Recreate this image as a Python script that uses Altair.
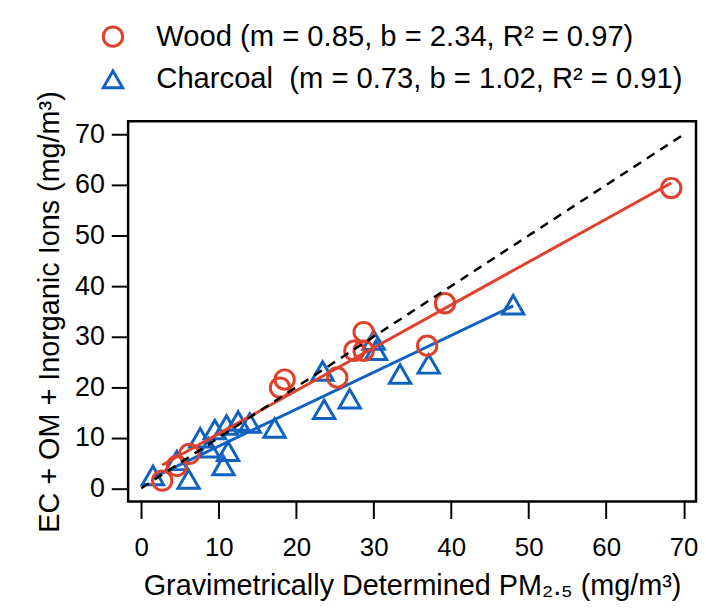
import altair as alt
import pandas as pd

# Wood (red circles)
wood_x = [68.4, 39.2, 36.9, 28.7, 27.5, 28.7, 25.3, 18.5, 17.9, 2.7, 4.6, 6.2]
wood_y = [59.4, 36.6, 28.2, 30.9, 27.2, 27.2, 21.9, 21.5, 19.9, 1.5, 4.4, 6.8]
# Charcoal (blue triangles)
char_x = [1.5, 4.6, 6.1, 7.6, 8.7, 9.5, 11.0, 11.2, 10.6, 12.5, 14.0, 17.2,
          23.4, 23.6, 26.9, 30.0, 30.3, 33.4, 37.1, 48.0]
char_y = [2.5, 5.5, 1.8, 10.0, 8.0, 11.6, 12.5, 7.3, 4.5, 13.3, 12.9, 11.9,
          23.2, 15.6, 17.7, 29.3, 27.3, 22.6, 24.6, 36.3]
# fitted lines (end points)
wood_fit_x = [2.7, 68.4]
wood_fit_y = [4.6, 60.4]
char_fit_x = [1.5, 48.0]
char_fit_y = [2.1, 36.1]
one_x = [0, 70]
one_y = [0, 70]

series = ["Wood", "Charcoal"]
legend_labels = ["Wood (m = 0.85, b = 2.34, R² = 0.97)",
                 "Charcoal\u00a0 (m = 0.73, b = 1.02, R² = 0.91)"]
ticks = [0, 10, 20, 30, 40, 50, 60, 70]

RED = "#e0412c"
BLUE = "#0f62c0"
FONT = "Liberation Sans"

pts = pd.DataFrame({
    "x": wood_x + char_x,
    "y": wood_y + char_y,
    "series": ["Wood"] * len(wood_x) + ["Charcoal"] * len(char_x),
})
wood_fit = pd.DataFrame({"x": wood_fit_x, "y": wood_fit_y})
char_fit = pd.DataFrame({"x": char_fit_x, "y": char_fit_y})
one = pd.DataFrame({"x": one_x, "y": one_y})

xs = alt.Scale(domain=[-1.7, 71.6], nice=False, zero=False)
ys = alt.Scale(domain=[-2.65, 72.6], nice=False, zero=False)

xaxis = alt.Axis(values=ticks, title="Gravimetrically Determined PM₂.₅ (mg/m³)", titlePadding=12,
                 labelFontSize=26)
yaxis = alt.Axis(values=ticks, title="EC + OM + Inorganic Ions (mg/m³)", titlePadding=10)

label_expr = ("datum.label == 'Wood' ? '%s' : '%s'" % (legend_labels[0], legend_labels[1]))

legend = alt.Legend(title=None, orient="none", legendX=-30, legendY=-100,
                    labelExpr=label_expr, labelFontSize=29.4, labelFont=FONT,
                    labelColor="black", labelOffset=29, rowPadding=11, padding=0,
                    labelLimit=0,
                    symbolSize=380, symbolStrokeWidth=3, symbolFillColor="transparent")

color = alt.Color("series:N", scale=alt.Scale(domain=series, range=[RED, BLUE]),
                  legend=legend)
shape = alt.Shape("series:N", scale=alt.Scale(domain=series, range=["circle", "triangle-up"]),
                  legend=legend)

X = alt.X("x:Q", scale=xs, axis=xaxis)
Y = alt.Y("y:Q", scale=ys, axis=yaxis)

char_pts = alt.Chart(pts).transform_filter("datum.series == 'Charcoal'").mark_point(
    filled=False, strokeWidth=3, size=460, opacity=1
).encode(x=X, y=Y, color=color, shape=shape)

wood_pts = alt.Chart(pts).transform_filter("datum.series == 'Wood'").mark_point(
    filled=False, strokeWidth=3, size=380, opacity=1
).encode(x=X, y=Y, color=color, shape=shape)

char_line = alt.Chart(char_fit).mark_line(color=BLUE, strokeWidth=3).encode(x=X, y=Y)
wood_line = alt.Chart(wood_fit).mark_line(color=RED, strokeWidth=3).encode(x=X, y=Y)
one_line = alt.Chart(one).mark_line(color="black", strokeWidth=2.5, strokeDash=[9, 7]).encode(x=X, y=Y)

chart = alt.layer(char_pts, char_line, wood_pts, wood_line, one_line).properties(
    width=572, height=383,
    autosize=alt.AutoSizeParams(type="none"),
    padding={"left": 121, "top": 112, "right": 2, "bottom": 104},
    background="white",
).configure_view(
    stroke="black", strokeWidth=2.5
).configure_axis(
    grid=False, domain=False, tickSize=17, tickWidth=2, tickColor="black",
    labelFontSize=27, labelFont=FONT, labelColor="black",
    titleFontSize=29, titleFont=FONT, titleColor="black", titleFontWeight="normal",
).configure_axisX(labelPadding=16).configure_axisY(labelPadding=7)

chart.save("out.html", embed_options={"renderer": "svg", "actions": False})
